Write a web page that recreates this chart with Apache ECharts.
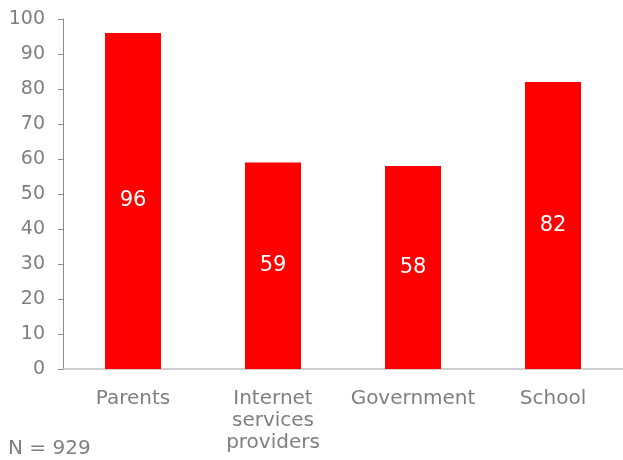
<!DOCTYPE html>
<html>
<head>
<meta charset="utf-8">
<script src="https://cdn.jsdelivr.net/npm/echarts@6/dist/echarts.min.js"></script>
<style>
  html, body { margin: 0; padding: 0; background: #fff; }
  #main { width: 623px; height: 460px; }
</style>
</head>
<body>
<div id="main"></div>
<script>
// data
const categories = ['Parents', 'Internet\nservices\nproviders', 'Government', 'School']
const values = [96, 59, 58, 82]
const yMin = 0
const yMax = 100
const yStep = 10
const note = 'N = 929'

const myChart = echarts.init(document.getElementById('main'))
const font = 'DejaVu Sans, Verdana, sans-serif'

const option = {
  animation: false,
  textStyle: { fontFamily: font },
  graphic: [
    {
      type: 'text',
      left: 8,
      top: 439,
      style: { text: note, fontSize: 20, fill: '#7f7f7f', fontFamily: font }
    }
  ],
  grid: {
    left: 63,
    right: -4,
    top: 19,
    bottom: 91
  },
  xAxis: {
    type: 'category',
    data: categories,
    axisLine: { lineStyle: { color: '#bfbfbf', width: 1.5 } },
    axisTick: { length: 6, lineStyle: { color: '#a6a6a6' } },
    axisLabel: {
      color: '#7f7f7f',
      fontSize: 20,
      lineHeight: 22,
      margin: 19,
      interval: 0
    }
  },
  yAxis: {
    type: 'value',
    min: yMin,
    max: yMax,
    interval: yStep,
    splitLine: { show: false },
    axisLine: { show: true, lineStyle: { color: '#8c8c8c' } },
    axisTick: { show: true, length: 5, lineStyle: { color: '#8c8c8c' } },
    axisLabel: { color: '#7f7f7f', fontSize: 19, margin: 18 }
  },
  series: [
    {
      type: 'bar',
      data: values,
      barWidth: '40%',
      itemStyle: { color: '#ff0000' },
      label: {
        show: true,
        position: 'inside',
        color: '#ffffff',
        fontSize: 21,
        fontFamily: font
      }
    }
  ]
}
myChart.setOption(option)
</script>
</body>
</html>
